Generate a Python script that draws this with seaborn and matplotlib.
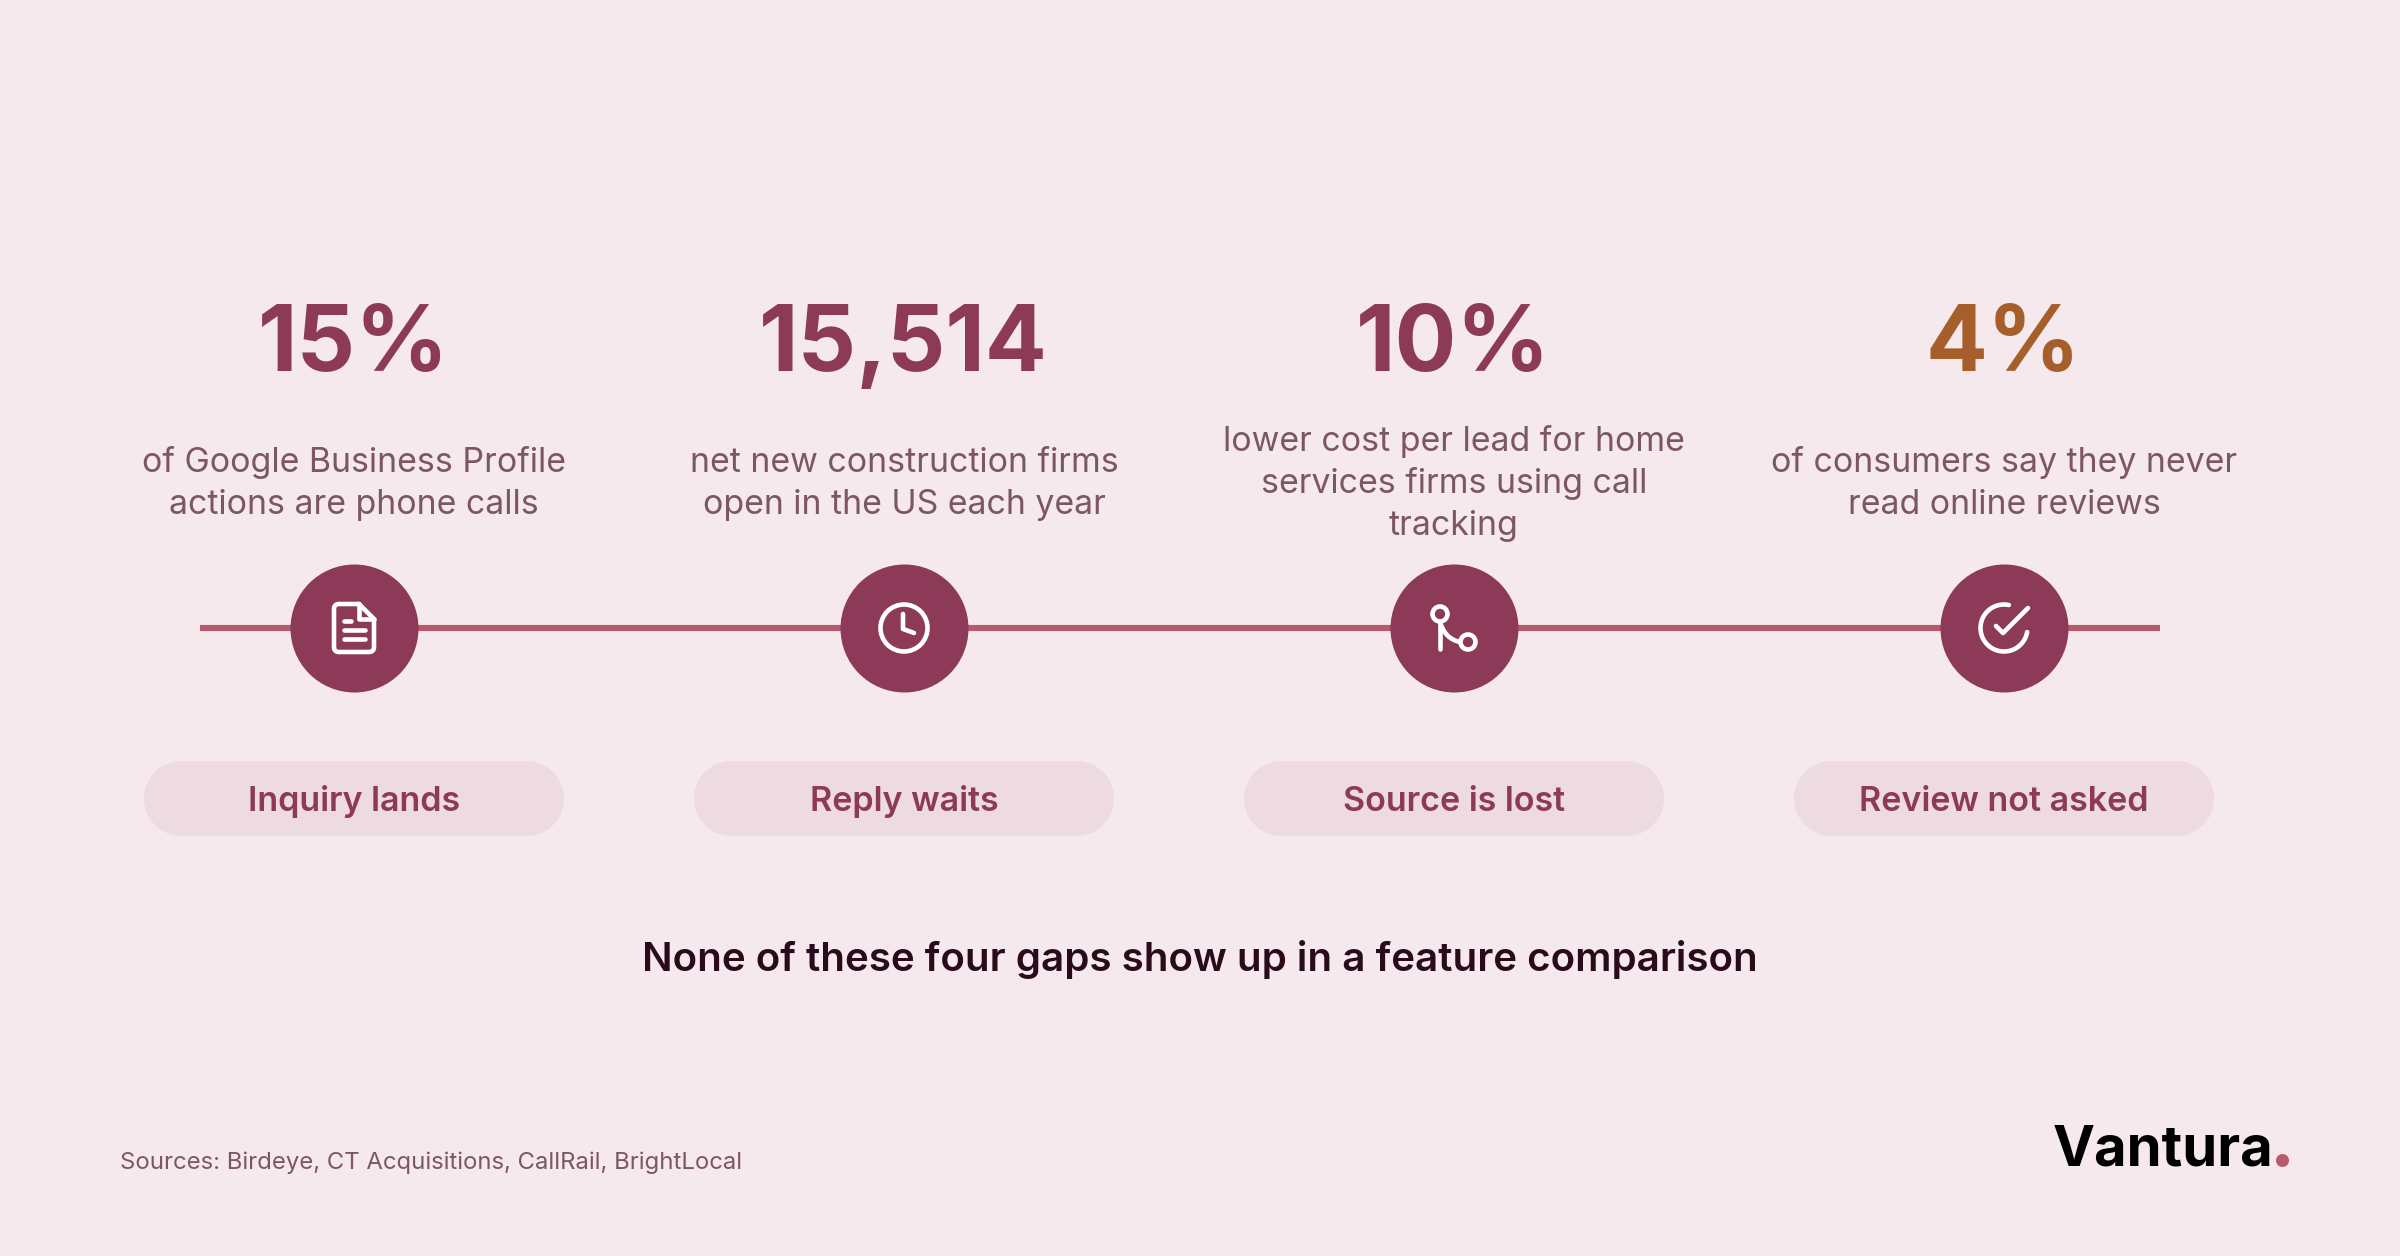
import numpy as np
import pandas as pd
import seaborn as sns
import matplotlib.pyplot as plt
from matplotlib.patches import Circle, PathPatch
from matplotlib.path import Path

# chart content
stats = ['15%', '15,514', '10%', '4%']
descriptions = [
    ['of Google Business Profile', 'actions are phone calls'],
    ['net new construction firms', 'open in the US each year'],
    ['lower cost per lead for home', 'services firms using call', 'tracking'],
    ['of consumers say they never', 'read online reviews'],
]
stages = ['Inquiry lands', 'Reply waits', 'Source is lost', 'Review not asked']
stat_colors = ['#8C3A57', '#8C3A57', '#8C3A57', '#A65F2B']
headline = 'None of these four gaps show up in a feature comparison'
source_note = 'Sources: Birdeye, CT Acquisitions, CallRail, BrightLocal'
brand = 'Vantura'

BG = '#F5E9ED'
PLUM = '#8C3A57'
ROSE = '#B85A6E'
PILL = '#EEDAE1'
MUTED = '#7D5666'

sns.set_theme(style='white')
plt.rcParams['font.family'] = ['Inter', 'DejaVu Sans']

fig = plt.figure(figsize=(24, 12.56), dpi=100, facecolor=BG)
ax = fig.add_axes([0, 0, 1, 1])

# one column per step
df = pd.DataFrame({'x': 353.5 + 550 * np.arange(len(stages)), 'y': 627.5, 'stage': stages})

# timeline line and the dots on it
line_df = pd.DataFrame({'x': [200, 2160], 'y': [628, 628]})
sns.lineplot(data=line_df, x='x', y='y', color=ROSE, linewidth=4.4, ax=ax, zorder=1,
             errorbar=None, solid_capstyle='butt')
sns.scatterplot(data=df, x='x', y='y', color=PLUM, s=(128 * 0.72) ** 2, linewidth=0, ax=ax, zorder=2)
ax.set_xlim(0, 2400)
ax.set_ylim(1256, 0)
ax.axis('off')


def stroke(verts, codes=None):
    ax.add_patch(PathPatch(Path(verts, codes), fill=False, ec='white', lw=3.3,
                           capstyle='round', joinstyle='round', zorder=3))


def doc_icon(cx, cy):
    L = Path.LINETO
    M = Path.MOVETO
    C = Path.CURVE3
    stroke([(cx + 5, cy - 24), (cx - 15, cy - 24), (cx - 20, cy - 24), (cx - 20, cy - 19),
            (cx - 20, cy + 19), (cx - 20, cy + 24), (cx - 15, cy + 24),
            (cx + 15, cy + 24), (cx + 20, cy + 24), (cx + 20, cy + 19), (cx + 20, cy - 9), (cx + 5, cy - 24)],
           [M, L, C, C, L, C, C, L, C, C, L, L])
    stroke([(cx + 5, cy - 24), (cx + 5, cy - 9), (cx + 20, cy - 9)])
    stroke([(cx - 10, cy - 7), (cx - 3, cy - 7)])
    stroke([(cx - 10, cy + 2), (cx + 11, cy + 2)])
    stroke([(cx - 10, cy + 11), (cx + 11, cy + 11)])


def clock_icon(cx, cy):
    ax.add_patch(Circle((cx, cy), 23.5, fill=False, ec='white', lw=3.3, zorder=3))
    stroke([(cx - 1, cy - 14), (cx - 1, cy + 1), (cx + 10, cy + 5)])


def branch_icon(cx, cy):
    ax.add_patch(Circle((cx - 14, cy - 14), 7.5, fill=False, ec='white', lw=3.3, zorder=3))
    ax.add_patch(Circle((cx + 14, cy + 14), 7.5, fill=False, ec='white', lw=3.3, zorder=3))
    stroke([(cx - 14, cy - 6), (cx - 14, cy + 21)])
    stroke([(cx - 14, cy - 6), (cx - 9, cy + 11), (cx + 6, cy + 14)],
           [Path.MOVETO, Path.CURVE3, Path.CURVE3])


def check_icon(cx, cy):
    # ring runs the long way round, leaving the gap at upper right
    t = np.radians(np.linspace(10, 282, 60))
    stroke(np.column_stack([cx + 23.5 * np.cos(t), cy + 23.5 * np.sin(t)]))
    stroke([(cx - 8, cy - 2), (cx - 1, cy + 5), (cx + 24, cy - 20)])


icons = [doc_icon, clock_icon, branch_icon, check_icon]

for i, row in df.iterrows():
    cx = row['x']
    ax.text(cx, 371, stats[i], color=stat_colors[i], fontsize=66, fontweight='bold',
            ha='center', va='baseline')
    lines = descriptions[i]
    for k, txt in enumerate(lines):
        ax.text(cx + 0.5, 472 + (k - (len(lines) - 2) / 2) * 42, txt, color=MUTED,
                fontsize=24.4, ha='center', va='baseline')
    icons[i](cx + 0.5, 628)
    # pill is a fat line with round ends
    ax.plot([cx - 172.5, cx + 172.5], [798, 798], color=PILL, lw=75 * 0.72, solid_capstyle='round', zorder=1)
    ax.text(cx + 0.5, 811, row['stage'], color=PLUM, fontsize=24.5, fontweight='semibold', ha='center', va='baseline')

ax.text(1200, 971, headline, color='#2A0B1C', fontsize=29, fontweight='semibold', ha='center', va='baseline')
ax.text(120, 1169, source_note, color=MUTED, fontsize=17.2, ha='left', va='baseline')
ax.text(2053, 1166, brand, color='black', fontsize=40.5, fontweight='bold', ha='left', va='baseline')
ax.scatter([2282], [1160], s=(13 * 0.72) ** 2, color=ROSE, linewidth=0, zorder=3)

fig.savefig('out.png', dpi=100, facecolor=BG)
